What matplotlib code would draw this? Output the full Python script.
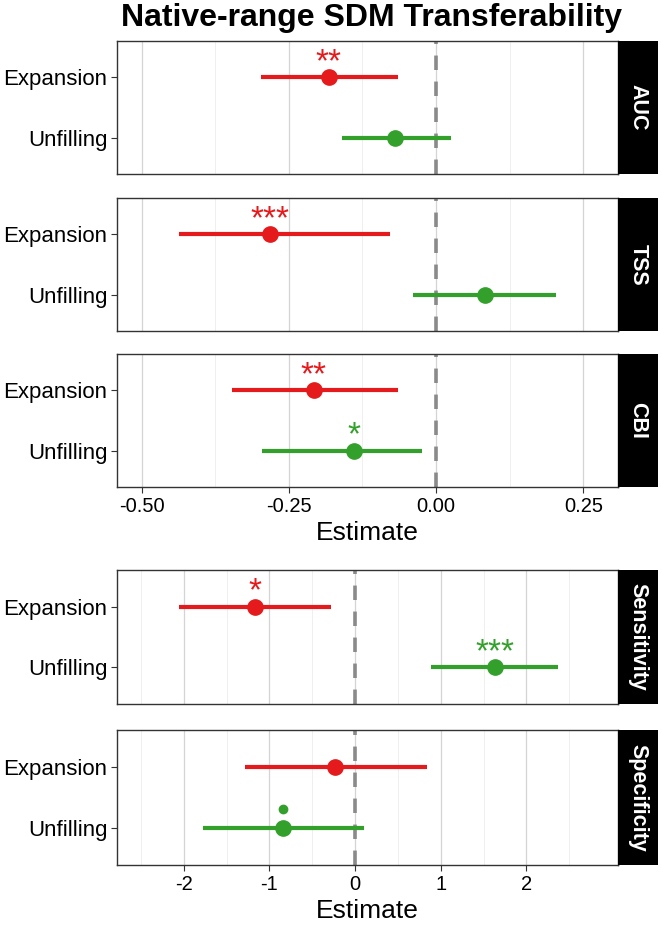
import matplotlib
matplotlib.use("Agg")
import matplotlib.pyplot as plt

plt.rcParams['font.family'] = ['Liberation Sans', 'DejaVu Sans']

# ---- data ----
groups = ["Expansion", "Unfilling"]
colors = {"Expansion": "#E41A1C", "Unfilling": "#33A02C"}

metrics_top = ["AUC", "TSS", "CBI"]
metrics_bot = ["Sensitivity", "Specificity"]

estimate = {
    "AUC": [-0.182, -0.069],
    "TSS": [-0.282, 0.083],
    "CBI": [-0.208, -0.139],
    "Sensitivity": [-1.17, 1.63],
    "Specificity": [-0.24, -0.84],
}
ci_low = {
    "AUC": [-0.297, -0.159],
    "TSS": [-0.437, -0.039],
    "CBI": [-0.346, -0.296],
    "Sensitivity": [-2.06, 0.89],
    "Specificity": [-1.29, -1.77],
}
ci_high = {
    "AUC": [-0.064, 0.025],
    "TSS": [-0.079, 0.204],
    "CBI": [-0.064, -0.024],
    "Sensitivity": [-0.28, 2.37],
    "Specificity": [0.84, 0.10],
}
signif = {
    "AUC": ["**", ""],
    "TSS": ["***", ""],
    "CBI": ["**", "*"],
    "Sensitivity": ["*", "***"],
    "Specificity": ["", "."],
}

xlim_top = (-0.542, 0.309)
xlim_bot = (-2.78, 3.07)
ticks_top = [-0.50, -0.25, 0.00, 0.25]
ticks_bot = [-2, -1, 0, 1, 2]
minor_top = [-0.375, -0.125, 0.125]
minor_bot = [-2.5, -1.5, -0.5, 0.5, 1.5, 2.5]

W, H = 661, 925
fig = plt.figure(figsize=(W / 100, H / 100), dpi=100)

x0, x1, strip_w = 117, 618, 40


def panel(metric, ytop, ybot, xlim, ticks, minor, show_x):
    ax = fig.add_axes([x0 / W, 1 - ybot / H, (x1 - x0) / W, (ybot - ytop) / H])
    for t in ticks:
        ax.axvline(t, color="#d4d4d4", lw=0.9, zorder=0)
    for t in minor:
        ax.axvline(t, color="#ececec", lw=0.6, zorder=0)
    ax.axvline(0, color="#8a8a8a", lw=2.6, ls=(0, (4, 3.2)), zorder=1)
    ypos = [2, 1]
    for g, y, est, lo, hi, s in zip(groups, ypos, estimate[metric], ci_low[metric],
                                    ci_high[metric], signif[metric]):
        c = colors[g]
        ax.plot([lo, hi], [y, y], color=c, lw=3.0, solid_capstyle="butt", zorder=2)
        ax.plot(est, y, "o", color=c, ms=11, zorder=3)
        if s == ".":
            # p < 0.1 marker drawn as a small dot
            ax.plot(est, y + 0.31, "o", color=c, ms=6, zorder=3)
        elif s:
            ax.text(est, y + 0.10, s, color=c, fontsize=24, ha="center",
                    va="baseline", zorder=3)
    ax.set_xlim(*xlim)
    ax.set_ylim(0.4, 2.6)
    ax.set_yticks(ypos)
    ax.set_yticklabels(groups, fontsize=16)
    ax.set_xticks(ticks)
    if show_x:
        ax.set_xticklabels([f"{t:.2f}" if isinstance(t, float) else str(t) for t in ticks],
                           fontsize=14.5)
        ax.set_xlabel("Estimate", fontsize=19, labelpad=4)
        ax.tick_params(axis="x", length=4, color="#333333", pad=3)
    else:
        ax.tick_params(axis="x", length=0, labelbottom=False)
    ax.tick_params(axis="y", length=4, color="#333333", pad=3)
    for sp in ax.spines.values():
        sp.set_color("#333333")
        sp.set_linewidth(1.0)
    # facet strip
    sax = fig.add_axes([x1 / W, 1 - ybot / H, strip_w / W, (ybot - ytop) / H])
    sax.set_facecolor("black")
    sax.set_xticks([])
    sax.set_yticks([])
    for sp in sax.spines.values():
        sp.set_visible(False)
    sax.text(0.5, 0.5, metric, rotation=-90, color="white", fontsize=15.5,
             fontweight="bold", ha="center", va="center", transform=sax.transAxes)
    return ax


panel("AUC", 41, 174, xlim_top, ticks_top, minor_top, False)
panel("TSS", 198, 331, xlim_top, ticks_top, minor_top, False)
panel("CBI", 354, 487, xlim_top, ticks_top, minor_top, True)
panel("Sensitivity", 570, 704, xlim_bot, ticks_bot, minor_bot, False)
panel("Specificity", 730, 865, xlim_bot, ticks_bot, minor_bot, True)

fig.text(372 / W, 1 - 18 / H, "Native-range SDM Transferability",
         ha="center", va="center", fontsize=23, fontweight="bold")

fig.savefig("out.png", dpi=100)
